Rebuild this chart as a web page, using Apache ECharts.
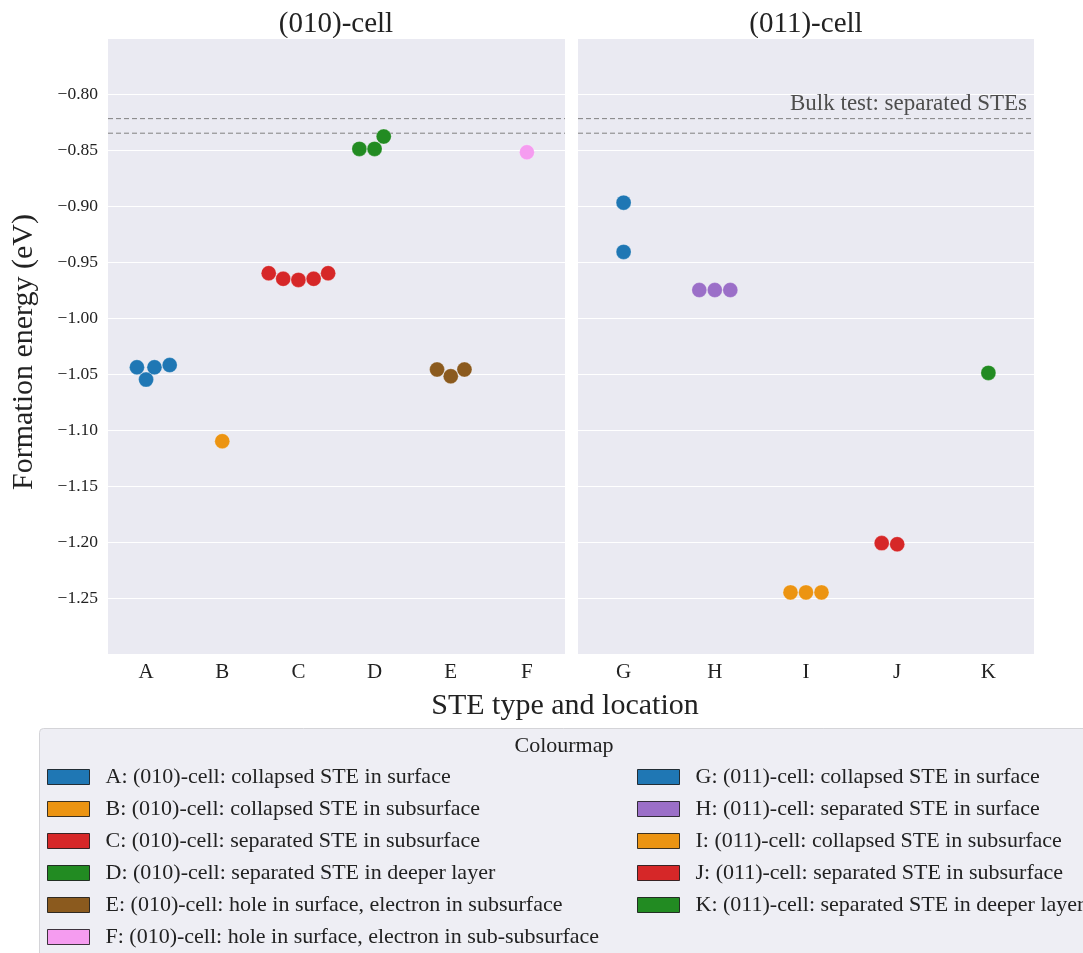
<!DOCTYPE html>
<html>
<head>
<meta charset="utf-8">
<script src="https://cdn.jsdelivr.net/npm/echarts@6/dist/echarts.min.js"></script>
<style>html,body{margin:0;padding:0;background:#fff}#c{width:1083px;height:953px}</style>
</head>
<body>
<div id="c"></div>
<script>
// ---- data ----
const leftCats = ['A', 'B', 'C', 'D', 'E', 'F'];
const rightCats = ['G', 'H', 'I', 'J', 'K'];
const panelTitles = ['(010)-cell', '(011)-cell'];
const yTicks = [-1.25, -1.20, -1.15, -1.10, -1.05, -1.00, -0.95, -0.90, -0.85, -0.80];
const bulkLines = [-0.822, -0.835];

const labelA = 'A: (010)-cell: collapsed STE in surface';
const labelB = 'B: (010)-cell: collapsed STE in subsurface';
const labelC = 'C: (010)-cell: separated STE in subsurface';
const labelD = 'D: (010)-cell: separated STE in deeper layer';
const labelE = 'E: (010)-cell: hole in surface, electron in subsurface';
const labelF = 'F: (010)-cell: hole in surface, electron in sub-subsurface';
const labelG = 'G: (011)-cell: collapsed STE in surface';
const labelH = 'H: (011)-cell: separated STE in surface';
const labelI = 'I: (011)-cell: collapsed STE in subsurface';
const labelJ = 'J: (011)-cell: separated STE in subsurface';
const labelK = 'K: (011)-cell: separated STE in deeper layer';

// formation energies (eV) and swarm offsets (category units) per type
const energyA = [-1.044, -1.055, -1.044, -1.042];
const swarmA  = [-0.12, 0, 0.11, 0.31];
const energyB = [-1.110];
const swarmB  = [0];
const energyC = [-0.960, -0.965, -0.966, -0.965, -0.960];
const swarmC  = [-0.39, -0.2, 0, 0.2, 0.39];
const energyD = [-0.849, -0.849, -0.838];
const swarmD  = [-0.2, 0, 0.12];
const energyE = [-1.046, -1.052, -1.046];
const swarmE  = [-0.18, 0, 0.18];
const energyF = [-0.852];
const swarmF  = [0];
const energyG = [-0.897, -0.941];
const swarmG  = [0, 0];
const energyH = [-0.975, -0.975, -0.975];
const swarmH  = [-0.17, 0, 0.17];
const energyI = [-1.245, -1.245, -1.245];
const swarmI  = [-0.17, 0, 0.17];
const energyJ = [-1.201, -1.202];
const swarmJ  = [-0.17, 0];
const energyK = [-1.049];
const swarmK  = [0];

const colA = '#1f77b4', colB = '#ec9412', colC = '#d62728', colD = '#228b22',
      colE = '#8b5a1e', colF = '#f59cf0', colG = '#1f77b4', colH = '#9b6fc8',
      colI = '#ec9412', colJ = '#d62728', colK = '#228b22';

// ---- build ----
const FONT = 'Liberation Serif';
const groups = [
  {label: labelA, e: energyA, s: swarmA, c: colA, idx: 0, panel: 0},
  {label: labelB, e: energyB, s: swarmB, c: colB, idx: 1, panel: 0},
  {label: labelC, e: energyC, s: swarmC, c: colC, idx: 2, panel: 0},
  {label: labelD, e: energyD, s: swarmD, c: colD, idx: 3, panel: 0},
  {label: labelE, e: energyE, s: swarmE, c: colE, idx: 4, panel: 0},
  {label: labelF, e: energyF, s: swarmF, c: colF, idx: 5, panel: 0},
  {label: labelG, e: energyG, s: swarmG, c: colG, idx: 0, panel: 1},
  {label: labelH, e: energyH, s: swarmH, c: colH, idx: 1, panel: 1},
  {label: labelI, e: energyI, s: swarmI, c: colI, idx: 2, panel: 1},
  {label: labelJ, e: energyJ, s: swarmJ, c: colJ, idx: 3, panel: 1},
  {label: labelK, e: energyK, s: swarmK, c: colK, idx: 4, panel: 1}
];

const fmt = v => {
  const r = Math.round(v * 100) / 100;
  if (!yTicks.some(t => Math.abs(t - r) < 1e-9)) return '';
  return r.toFixed(2).replace('-', '\u2212');
};

const series = groups.map(g => ({
  name: g.label,
  type: 'scatter',
  xAxisIndex: g.panel === 0 ? 1 : 3,
  yAxisIndex: g.panel,
  symbolSize: 15,
  itemStyle: {color: g.c, opacity: 1, borderColor: 'rgba(255,255,255,0.5)', borderWidth: 0.5},
  data: g.e.map((v, k) => [g.idx + g.s[k], v]),
  z: 5
}));

// dashed bulk reference lines spanning each panel
[[1, 0, leftCats.length], [3, 1, rightCats.length]].forEach(([xi, yi, n]) => {
  bulkLines.forEach(v => {
    series.push({
      type: 'line', xAxisIndex: xi, yAxisIndex: yi, silent: true, symbol: 'none',
      lineStyle: {type: [5, 3], color: '#808080', width: 1},
      data: [[-0.5, v], [n - 0.5, v]], z: 3
    });
  });
});

const catAxis = (cats, gi) => ({
  type: 'category', gridIndex: gi, data: cats, boundaryGap: true, position: 'bottom',
  axisLine: {show: false}, axisTick: {show: false}, splitLine: {show: false},
  axisLabel: {fontFamily: FONT, fontSize: 21, color: '#222', margin: 8}
});
const valXAxis = (n, gi) => ({
  type: 'value', gridIndex: gi, min: -0.5, max: n - 0.5, show: false
});
const yAx = (gi, showLabels) => ({
  type: 'value', gridIndex: gi, min: -1.30, max: -0.75, interval: 0.05,
  axisLine: {show: false}, axisTick: {show: false},
  splitLine: {show: true, lineStyle: {color: '#ffffff', width: 1}},
  axisLabel: {show: showLabels, formatter: fmt, fontFamily: FONT, fontSize: 17.5, color: '#222', margin: 10}
});

const legendCommon = {
  orient: 'vertical', icon: 'rect', itemWidth: 42, itemHeight: 15, itemGap: 10,
  padding: 0, height: 220,
  itemStyle: {borderColor: 'rgba(0,0,0,0.75)', borderWidth: 1},
  textStyle: {fontFamily: FONT, fontSize: 22, color: '#222', lineHeight: 22, padding: [0, 0, 0, 11]},
  selectedMode: false
};

const option = {
  animation: false,
  backgroundColor: '#ffffff',
  grid: [
    {left: 108, top: 38, width: 457, height: 616, show: true, backgroundColor: '#eaeaf2', borderWidth: 0},
    {left: 578, top: 38, width: 456, height: 616, show: true, backgroundColor: '#eaeaf2', borderWidth: 0}
  ],
  xAxis: [catAxis(leftCats, 0), valXAxis(leftCats.length, 0), catAxis(rightCats, 1), valXAxis(rightCats.length, 1)],
  yAxis: [yAx(0, true), yAx(1, false)],
  legend: [
    Object.assign({}, legendCommon, {left: 47, top: 766, data: [labelA, labelB, labelC, labelD, labelE, labelF]}),
    Object.assign({}, legendCommon, {left: 637, top: 766, data: [labelG, labelH, labelI, labelJ, labelK]})
  ],
  graphic: [
    {type: 'rect', z: -10, shape: {x: 39.5, y: 728.5, width: 1060, height: 240, r: 4},
     style: {fill: '#eeeef4', stroke: '#d4d4d8', lineWidth: 1}},
    {type: 'text', x: 564, y: 746, style: {text: 'Colourmap', font: '22px "' + FONT + '"', fill: '#222', textAlign: 'center', textVerticalAlign: 'middle'}},
    {type: 'text', x: 336, y: 24, style: {text: panelTitles[0], font: '29px "' + FONT + '"', fill: '#222', textAlign: 'center', textVerticalAlign: 'middle'}},
    {type: 'text', x: 806, y: 24, style: {text: panelTitles[1], font: '29px "' + FONT + '"', fill: '#222', textAlign: 'center', textVerticalAlign: 'middle'}},
    {type: 'text', x: 565, y: 706, style: {text: 'STE type and location', font: '30px "' + FONT + '"', fill: '#222', textAlign: 'center', textVerticalAlign: 'middle'}},
    {type: 'text', x: 24, y: 352, rotation: Math.PI / 2, style: {text: 'Formation energy (eV)', font: '30px "' + FONT + '"', fill: '#222', textAlign: 'center', textVerticalAlign: 'middle'}},
    {type: 'text', x: 1027, y: 104, z: 10, style: {text: 'Bulk test: separated STEs', font: '23px "' + FONT + '"', fill: '#4d4d4d', textAlign: 'right', textVerticalAlign: 'middle'}}
  ],
  series: series
};

const chart = echarts.init(document.getElementById('c'), null, {renderer: 'canvas'});
chart.setOption(option);
</script>
</body>
</html>
